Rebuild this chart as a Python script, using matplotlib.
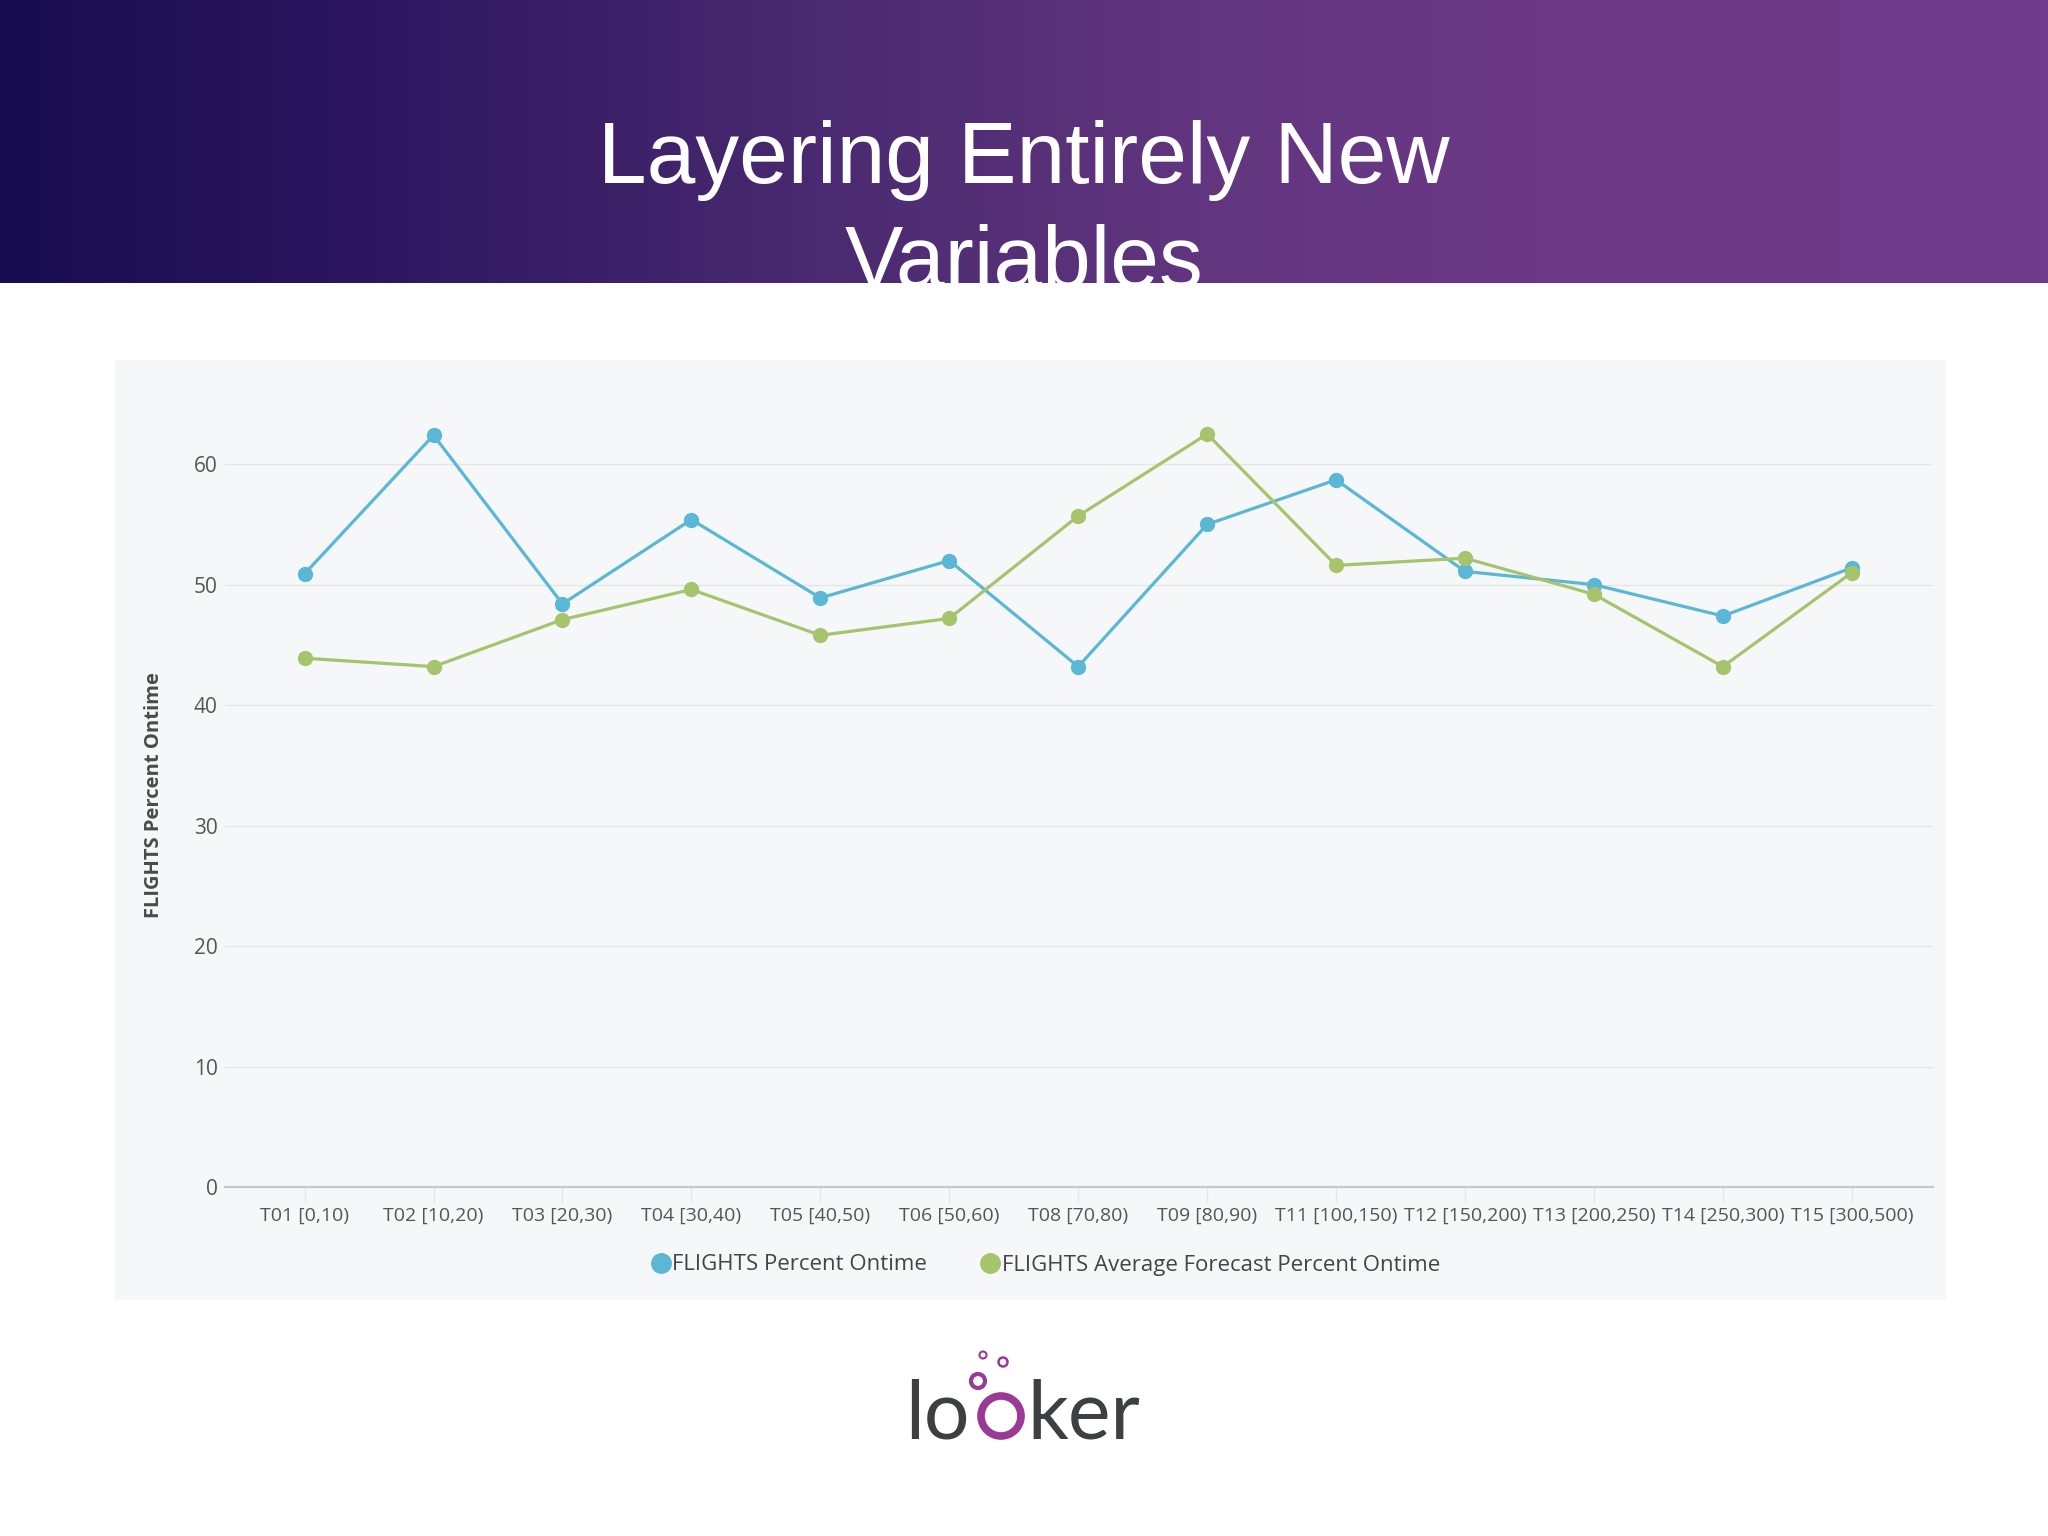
import matplotlib
matplotlib.use("Agg")
import matplotlib.pyplot as plt
import numpy as np
from matplotlib.colors import LinearSegmentedColormap
from matplotlib.lines import Line2D
from matplotlib.patches import Rectangle, Circle

# data
categories = ["T01 [0,10)", "T02 [10,20)", "T03 [20,30)", "T04 [30,40)", "T05 [40,50)",
              "T06 [50,60)", "T08 [70,80)", "T09 [80,90)", "T11 [100,150)", "T12 [150,200)",
              "T13 [200,250)", "T14 [250,300)", "T15 [300,500)"]
pct_ontime = [50.9, 62.4, 48.4, 55.4, 48.9, 52.0, 43.2, 55.0, 58.7, 51.1, 50.0, 47.4, 51.4]
forecast_ontime = [43.9, 43.2, 47.1, 49.6, 45.8, 47.2, 55.7, 62.5, 51.6, 52.2, 49.2, 43.2, 51.0]
yticks = [0, 10, 20, 30, 40, 50, 60]

title_lines = ["Layering Entirely New", "Variables"]
series_names = ["FLIGHTS Percent Ontime", "FLIGHTS Average Forecast Percent Ontime"]

BLUE = "#5ab7d6"
GREEN = "#a6c46c"
W, H = 2048, 1536

fig = plt.figure(figsize=(W / 100, H / 100), dpi=100, facecolor="white")

# header band with gradient
hdr_h = 283
hax = fig.add_axes([0, 1 - hdr_h / H, 1, hdr_h / H])
cmap = LinearSegmentedColormap.from_list(
    "hdr", ["#170c4f", "#2f1862", "#4a2a70", "#633680", "#6e3a88", "#703b8a"])
hax.imshow(np.linspace(0, 1, 512)[None, :], cmap=cmap, aspect="auto",
           extent=[0, 1, 0, 1])
hax.set_xlim(0, 1)
hax.set_ylim(0, 1)
hax.axis("off")
hax.text(0.5, 1 - 183 / hdr_h, title_lines[0], ha="center", va="baseline",
         color="white", fontsize=63, family="Liberation Sans", clip_on=True)
hax.text(0.5, 1 - 287 / hdr_h, title_lines[1], ha="center", va="baseline",
         color="white", fontsize=63, family="Liberation Sans", clip_on=True)

# light panel behind chart
fig.patches.append(Rectangle((115 / W, 1 - 1300 / H), (1946 - 115) / W, (1300 - 360) / H,
                             transform=fig.transFigure, facecolor="#f6f7f9",
                             edgecolor="none", zorder=-5))

ax = fig.add_axes([172 / 1568, 1 - 909 / 1176, (1480 - 172) / 1568, (909 - 300) / 1176])
ax.set_facecolor("none")
x = np.arange(len(categories))
ax.plot(x, pct_ontime, color=BLUE, lw=2.3, marker="o", ms=10, zorder=3)
ax.plot(x, forecast_ontime, color=GREEN, lw=2.3, marker="o", ms=10, zorder=3)

ax.set_xlim(-0.62, len(categories) - 1 + 0.63)
ax.set_ylim(0, 66)
ax.set_yticks(yticks)
ax.set_xticks(x)
ax.set_xticklabels(categories, family="Open Sans", fontsize=14, color="#555555")
ax.tick_params(axis="x", length=11, width=1, color="#e6e6e6", pad=3)
ax.tick_params(axis="y", length=0, pad=5, labelsize=15, labelcolor="#555555")
for lbl in ax.get_yticklabels():
    lbl.set_family("Open Sans")
ax.grid(axis="y", color="#e6e6e8", lw=1)
for s in ["top", "right", "left"]:
    ax.spines[s].set_visible(False)
ax.spines["bottom"].set_color("#c6c8d0")
ax.spines["bottom"].set_linewidth(1.6)
ax.set_axisbelow(True)

fig.text(154 / W, 1 - 795 / H, "FLIGHTS Percent Ontime", rotation=90, ha="center",
         va="center", family="Open Sans", fontweight="bold", fontsize=14.5, color="#4a4a4a")

handles = [Line2D([], [], ls="none", marker="o", ms=14, color=BLUE),
           Line2D([], [], ls="none", marker="o", ms=14, color=GREEN)]
leg = fig.legend(handles, series_names, loc="center", bbox_to_anchor=(0.511, 1 - 1265 / H),
                 ncol=2, frameon=False, handlelength=0.7, handletextpad=0.15,
                 columnspacing=2.5, prop={"family": "Open Sans", "size": 16})
for t in leg.get_texts():
    t.set_color("#444444")

# looker logo
lax = fig.add_axes([880 / W, 1 - 1460 / H, 290 / W, 130 / H])
lax.set_xlim(880, 1170)
lax.set_ylim(1460, 1330)
lax.axis("off")
DARK = "#3d3f42"
PURPLE = "#9a3a96"
lax.text(970, 1439, "lo", ha="right", va="baseline", family="Lato", fontsize=58, color=DARK)
lax.text(1027, 1439, "ker", ha="left", va="baseline", family="Lato", fontsize=58, color=DARK)
lax.add_patch(Circle((1001, 1416), 20, fill=False, ec=PURPLE, lw=5.5))
lax.add_patch(Circle((978, 1381), 7, fill=False, ec=PURPLE, lw=3))
lax.add_patch(Circle((983, 1355), 3.5, fill=False, ec=PURPLE, lw=1.5))
lax.add_patch(Circle((1003, 1362), 4.5, fill=False, ec=PURPLE, lw=1.8))

fig.savefig("out.png", dpi=100, facecolor="white")
